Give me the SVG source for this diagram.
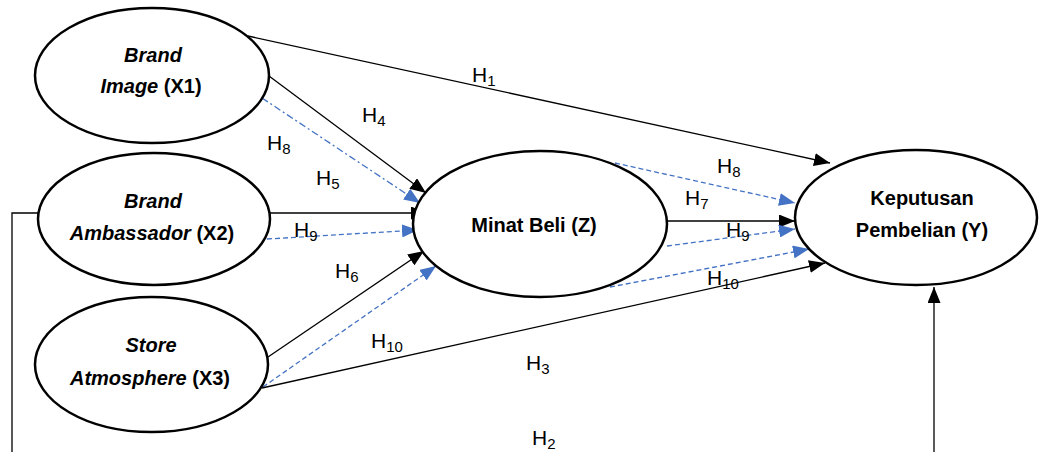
<svg xmlns="http://www.w3.org/2000/svg" width="1040" height="452" viewBox="0 0 1040 452">
<defs>
<marker id="ab" markerUnits="userSpaceOnUse" markerWidth="16" markerHeight="13" refX="16" refY="6.5" orient="auto"><path d="M0,0 L16,6.5 L0,13 z" fill="#000"/></marker>
<marker id="au" markerUnits="userSpaceOnUse" markerWidth="16" markerHeight="13" refX="16" refY="6.5" orient="auto"><path d="M0,0 L16,6.5 L0,13 z" fill="#4472C4"/></marker>
</defs>
<style>
.n{fill:#fff;stroke:#000;stroke-width:2.5}
.t{font-family:"Liberation Sans",Arial,sans-serif;font-size:20px;font-weight:bold;fill:#000;text-anchor:middle}
.i{font-style:italic}
.c{fill:none;stroke:#000;stroke-width:1.3}
.b{fill:none;stroke:#4472C4;stroke-width:1.3;stroke-dasharray:5 3}
.bd{fill:none;stroke:#4472C4;stroke-width:1.3;stroke-dasharray:7 3 2 3}
.h{font-family:"Liberation Sans",Arial,sans-serif;font-size:21px;fill:#000}
.s{font-size:15px}
</style>
<g id="connectors">
<line class="c" x1="248" y1="36" x2="830" y2="163" marker-end="url(#ab)"/>
<line class="c" x1="269" y1="76" x2="426" y2="193" marker-end="url(#ab)"/>
<line class="bd" x1="262" y1="98" x2="420" y2="203" marker-end="url(#au)"/>
<line class="c" x1="270" y1="213" x2="427" y2="213" marker-end="url(#ab)"/>
<line class="b" x1="267" y1="239" x2="418" y2="230" marker-end="url(#au)"/>
<line class="c" x1="268" y1="357" x2="424" y2="251" marker-end="url(#ab)"/>
<line class="b" x1="263" y1="387" x2="436" y2="266" marker-end="url(#au)"/>
<line class="c" x1="262" y1="388" x2="825" y2="263" marker-end="url(#ab)"/>
<line class="c" x1="667" y1="221" x2="795" y2="221" marker-end="url(#ab)"/>
<line class="b" x1="615" y1="163" x2="795" y2="203" marker-end="url(#au)"/>
<line class="b" x1="667" y1="246" x2="795" y2="229" marker-end="url(#au)"/>
<line class="b" x1="610" y1="287" x2="809" y2="249" marker-end="url(#au)"/>
<polyline class="c" points="38,213 12,213 12,452"/>
<line class="c" x1="934" y1="452" x2="934" y2="287" marker-end="url(#ab)"/>
</g>
<g id="x1"><ellipse class="n" cx="152" cy="75.5" rx="117" ry="67.5"/>
<text class="t i" x="153" y="62">Brand</text>
<text class="t" x="151" y="93"><tspan class="i">Image</tspan> (X1)</text></g>
<g id="x2"><ellipse class="n" cx="154" cy="219" rx="116" ry="66"/>
<text class="t i" x="153" y="208">Brand</text>
<text class="t" x="152" y="240"><tspan class="i">Ambassador</tspan> (X2)</text></g>
<g id="x3"><ellipse class="n" cx="151.5" cy="364.5" rx="116.5" ry="67.5"/>
<text class="t i" x="151" y="352">Store</text>
<text class="t" x="150" y="385"><tspan class="i">Atmosphere</tspan> (X3)</text></g>
<g id="z"><ellipse class="n" cx="540" cy="224" rx="127" ry="73"/>
<text class="t" x="534" y="232">Minat Beli (Z)</text></g>
<g id="y"><ellipse class="n" cx="916" cy="217.5" rx="121" ry="67.5"/>
<text class="t" x="922" y="205">Keputusan</text>
<text class="t" x="922" y="237">Pembelian (Y)</text></g>
<g id="labels">
<text class="h" x="472" y="82">H<tspan class="s" dy="4">1</tspan></text>
<text class="h" x="362" y="122">H<tspan class="s" dy="4">4</tspan></text>
<text class="h" x="267" y="150">H<tspan class="s" dy="4">8</tspan></text>
<text class="h" x="316" y="185">H<tspan class="s" dy="4">5</tspan></text>
<text class="h" x="294" y="237">H<tspan class="s" dy="4">9</tspan></text>
<text class="h" x="335" y="278">H<tspan class="s" dy="4">6</tspan></text>
<text class="h" x="371" y="348">H<tspan class="s" dy="4">10</tspan></text>
<text class="h" x="526" y="370">H<tspan class="s" dy="4">3</tspan></text>
<text class="h" x="532" y="445">H<tspan class="s" dy="4">2</tspan></text>
<text class="h" x="717" y="173">H<tspan class="s" dy="4">8</tspan></text>
<text class="h" x="685" y="205">H<tspan class="s" dy="4">7</tspan></text>
<text class="h" x="726" y="237">H<tspan class="s" dy="4">9</tspan></text>
<text class="h" x="707" y="285">H<tspan class="s" dy="4">10</tspan></text>
</g>
</svg>
